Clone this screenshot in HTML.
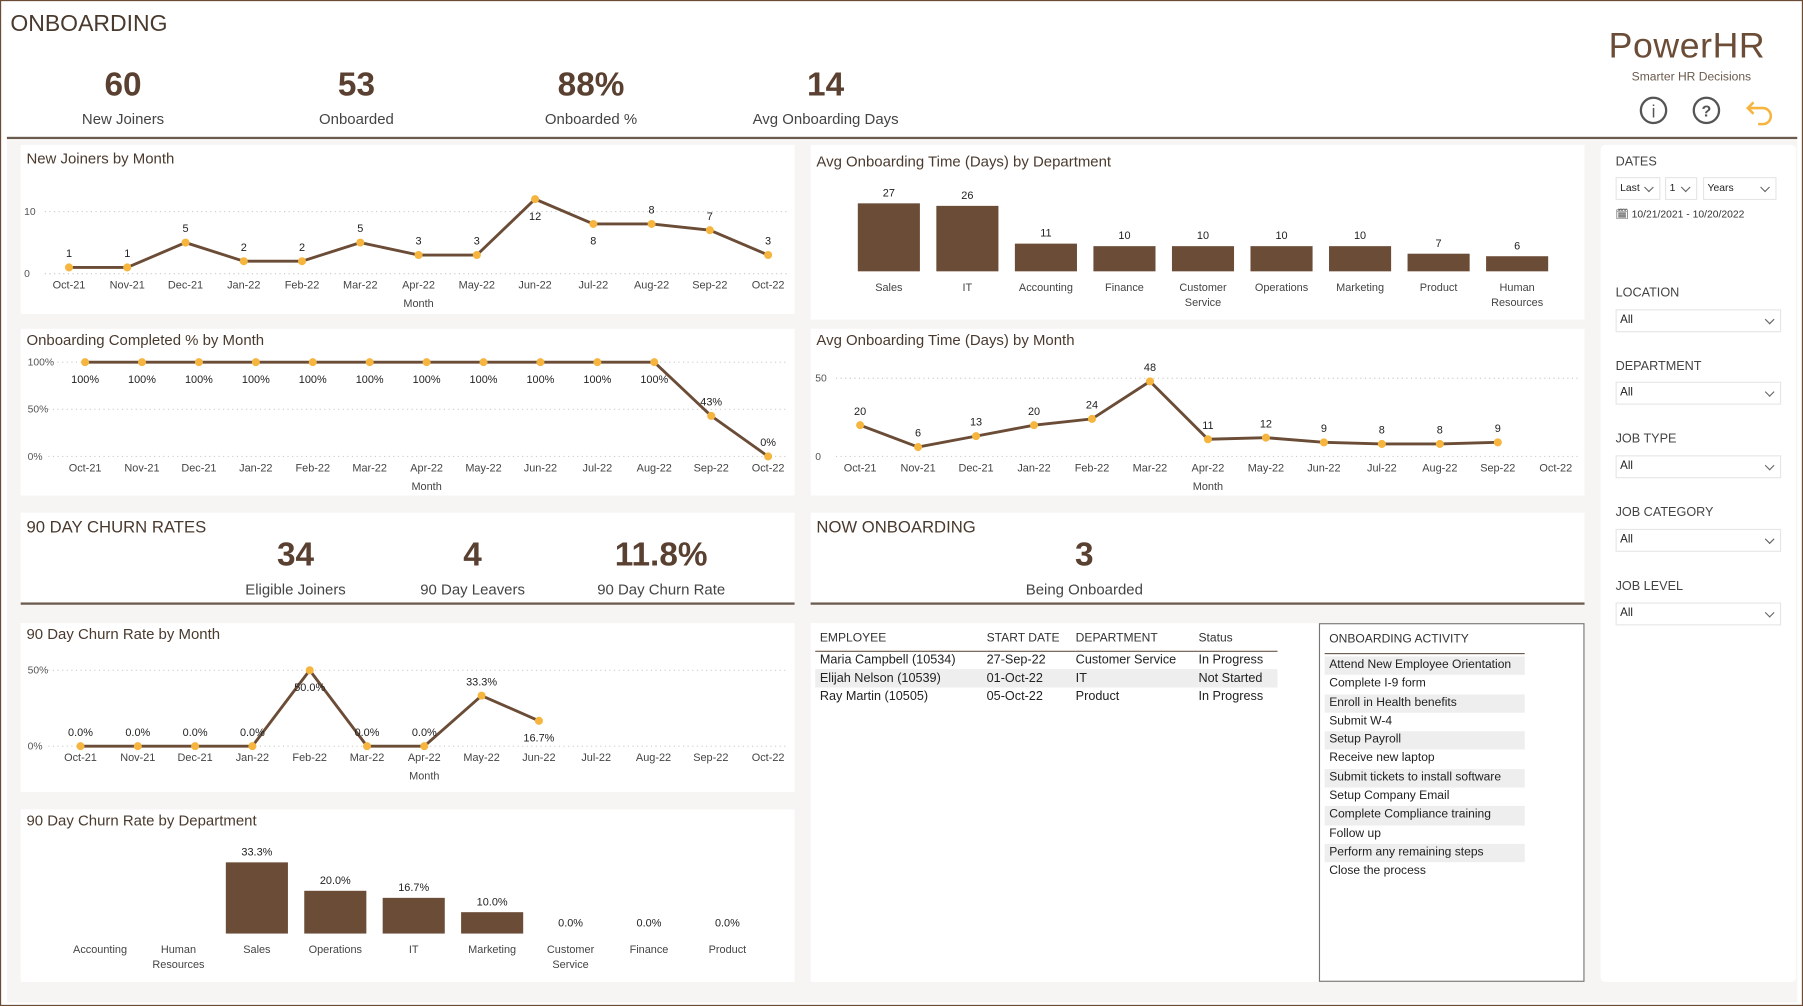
<!DOCTYPE html>
<html><head><meta charset="utf-8">
<style>
*{box-sizing:border-box;margin:0;padding:0}
body{width:1803px;height:1006px;overflow:hidden;background:#fff;font-family:"Liberation Sans",sans-serif}
#root{position:absolute;left:0;top:0;width:1568px;height:875px;transform:scale(1.14987,1.14971);transform-origin:0 0;background:#fff;border:1.5px solid #6b4c36}
.abs{position:absolute}
.bg{position:absolute;left:5px;top:121px;width:1557px;height:750px;background:#f7f5f3}
.panel{position:absolute;background:#fff}
.ptitle{position:absolute;left:5px;top:4px;font-size:13px;color:#4a3a2e}
.kv{position:absolute;text-align:center;color:#5a4030}
.kv b{display:block;font-size:29px;line-height:34px;font-weight:bold;color:#5a4030}
.kv span{display:block;font-size:13px;color:#444;margin-top:5px}
.sl{position:absolute;font-size:11px;color:#444;left:13px}
.dd{position:absolute;left:13px;width:144px;height:20px;border:1px solid #e6e6e6;font-size:10px;color:#222;padding:3px 3px}
.dd::after{content:"";position:absolute;right:6px;top:5px;width:5px;height:5px;border-right:1px solid #666;border-bottom:1px solid #666;transform:rotate(45deg)}
table{border-collapse:collapse;font-size:11px;color:#222}
svg text{font-family:"Liberation Sans",sans-serif}
.act div{height:16.3px;font-size:10.5px;padding:1px 4px;color:#222;width:174px}
</style></head><body>
<div id="root">
<div class="abs" style="left:8px;top:9px;font-size:20px;color:#4a3a2e">ONBOARDING</div>
<div class="kv" style="left:46px;top:56px;width:120px"><b>60</b><span>New Joiners</span></div>
<div class="kv" style="left:249px;top:56px;width:120px"><b>53</b><span>Onboarded</span></div>
<div class="kv" style="left:453px;top:56px;width:120px"><b>88%</b><span>Onboarded %</span></div>
<div class="kv" style="left:637px;top:56px;width:160px"><b>14</b><span>Avg Onboarding Days</span></div>
<div class="abs" style="left:1398px;top:21px;font-size:31px;color:#6b4c36;letter-spacing:0.5px">PowerHR</div>
<div class="abs" style="left:1418px;top:60px;font-size:10.5px;color:#6b5a4e">Smarter HR Decisions</div>
<svg class="abs" style="left:1420px;top:80px" width="130" height="30">
<g><circle cx="17" cy="15" r="11" fill="none" stroke="#555" stroke-width="2"/><text x="17" y="21" font-size="15" text-anchor="middle" fill="#555">i</text></g>
<g><circle cx="63" cy="15" r="11" fill="none" stroke="#555" stroke-width="2"/><text x="63" y="20.5" font-size="14" font-weight="bold" text-anchor="middle" fill="#555">?</text></g>
<path d="M104 8 L99 13 L104 18 M99 13 H112 A7 7 0 0 1 112 27 H108" fill="none" stroke="#f5b53f" stroke-width="2.2"/>
</svg>
<div class="abs" style="left:5px;top:118px;width:1557px;height:2px;background:#6b5a4e"></div>
<div class="bg"></div>

<div class="panel" style="left:17px;top:125px;width:673px;height:147px"><div class="ptitle">New Joiners by Month</div></div>
<div class="panel" style="left:704px;top:125px;width:673px;height:152px"><div class="ptitle" style="top:7px">Avg Onboarding Time (Days) by Department</div></div>
<div class="panel" style="left:17px;top:285px;width:673px;height:145px"><div class="ptitle" style="top:2px">Onboarding Completed % by Month</div></div>
<div class="panel" style="left:704px;top:285px;width:673px;height:145px"><div class="ptitle" style="top:2px">Avg Onboarding Time (Days) by Month</div></div>

<div class="panel" style="left:17px;top:445px;width:673px;height:80px;border-bottom:2px solid #6b5a4e">
<div class="ptitle" style="top:5px;font-size:14.5px">90 DAY CHURN RATES</div>
<div class="kv" style="left:179px;top:20px;width:120px"><b>34</b><span>Eligible Joiners</span></div>
<div class="kv" style="left:333px;top:20px;width:120px"><b>4</b><span>90 Day Leavers</span></div>
<div class="kv" style="left:487px;top:20px;width:140px"><b>11.8%</b><span>90 Day Churn Rate</span></div>
</div>
<div class="panel" style="left:704px;top:445px;width:673px;height:80px;border-bottom:2px solid #6b5a4e">
<div class="ptitle" style="top:5px;font-size:14.5px">NOW ONBOARDING</div>
<div class="kv" style="left:168px;top:20px;width:140px"><b>3</b><span>Being Onboarded</span></div>
</div>
<div class="panel" style="left:17px;top:541px;width:673px;height:147px"><div class="ptitle" style="top:2px">90 Day Churn Rate by Month</div></div>
<div class="panel" style="left:17px;top:703px;width:673px;height:150px"><div class="ptitle" style="top:2px">90 Day Churn Rate by Department</div></div>

<div class="panel" style="left:704px;top:541px;width:673px;height:312px">
<table style="position:absolute;left:4px;top:3px;width:402px">
<tr style="height:21px;border-bottom:1px solid #6b5a4e;font-size:10.5px;color:#333"><td style="padding-left:4px">EMPLOYEE</td><td>START DATE</td><td>DEPARTMENT</td><td>Status</td></tr>
<tr style="height:16px"><td style="padding-left:4px">Maria Campbell (10534)</td><td>27-Sep-22</td><td>Customer Service</td><td>In Progress</td></tr>
<tr style="height:16px;background:#eee"><td style="padding-left:4px">Elijah Nelson (10539)</td><td>01-Oct-22</td><td>IT</td><td>Not Started</td></tr>
<tr style="height:16px"><td style="padding-left:4px">Ray Martin (10505)</td><td>05-Oct-22</td><td>Product</td><td>In Progress</td></tr>
</table>
<div class="act" style="position:absolute;left:442px;top:0;width:231px;height:312px;border:1px solid #777;padding:4px 4px">
<div style="background:#fff;border-bottom:1px solid #6b5a4e;height:22px;color:#333;margin-bottom:2px;padding-top:3px">ONBOARDING ACTIVITY</div>
<div style="background:#eee">Attend New Employee Orientation</div><div style="background:#fff">Complete I-9 form</div><div style="background:#eee">Enroll in Health benefits</div><div style="background:#fff">Submit W-4</div><div style="background:#eee">Setup Payroll</div><div style="background:#fff">Receive new laptop</div><div style="background:#eee">Submit tickets to install software</div><div style="background:#fff">Setup Company Email</div><div style="background:#eee">Complete Compliance training</div><div style="background:#fff">Follow up</div><div style="background:#eee">Perform any remaining steps</div><div style="background:#fff">Close the process</div>
</div>
</div>

<div class="panel" style="left:1391px;top:125px;width:170px;height:728px;border-radius:4px">
<div class="sl" style="top:9px">DATES</div>
<div class="dd" style="top:28px;width:39px;font-size:9px">Last</div>
<div class="dd" style="top:28px;left:56px;width:28px;font-size:9px">1</div>
<div class="dd" style="top:28px;left:89px;width:64px;font-size:9px">Years</div>
<div class="sl" style="top:55px;font-size:9px;color:#333">🗓 10/21/2021 - 10/20/2022</div>
<div class="sl" style="top:123px">LOCATION</div><div class="dd" style="top:143px">All</div>
<div class="sl" style="top:187px">DEPARTMENT</div><div class="dd" style="top:206px">All</div>
<div class="sl" style="top:250px">JOB TYPE</div><div class="dd" style="top:270px">All</div>
<div class="sl" style="top:314px">JOB CATEGORY</div><div class="dd" style="top:334px">All</div>
<div class="sl" style="top:378px">JOB LEVEL</div><div class="dd" style="top:398px">All</div>
</div>

<svg id="charts" class="abs" style="left:0;top:0" width="1568" height="875"></svg>
</div>
<script>
const months=["Oct-21","Nov-21","Dec-21","Jan-22","Feb-22","Mar-22","Apr-22","May-22","Jun-22","Jul-22","Aug-22","Sep-22","Oct-22"];
const newJoiners=[1,1,5,2,2,5,3,3,12,8,8,7,3];
const completedPct=[100,100,100,100,100,100,100,100,100,100,100,43,0];
const avgDaysMonth=[20,6,13,20,24,48,11,12,9,8,8,9];
const churnMonth=[0,0,0,0,50,0,0,33.3,16.7];
const depts=["Sales","IT","Accounting","Finance","Customer\nService","Operations","Marketing","Product","Human\nResources"];
const deptDays=[27,26,11,10,10,10,10,7,6];
const churnDepts=["Accounting","Human\nResources","Sales","Operations","IT","Marketing","Customer\nService","Finance","Product"];
const churnDeptVals=[null,null,33.3,20,16.7,10,0,0,0];
const joinerTicks=[0,10];
const pctTicks=[0,50,100];
const dayTicks=[0,50];
const churnTicks=[0,50];

const S=document.getElementById('charts');const NS="http://www.w3.org/2000/svg";
function mk(t,a,txt,name){const e=document.createElementNS(NS,t);for(const k in a)e.setAttribute(k,a[k]);if(txt!==undefined){e.textContent=txt;}


S.appendChild(e);return e;}
function multi(x,y,s,size,fill,name){s.split("\n").forEach((l,i)=>mk('text',{x:x,y:y+i*13,'font-size':size,'text-anchor':'middle',fill:fill},l,name));}

function lineChart(o){
 const xs=i=>o.x0+i*(o.x1-o.x0)/(months.length-1);
 const ys=v=>o.y0-(v-o.vmin)/(o.vmax-o.vmin)*(o.y0-o.y1);
 o.ticks.forEach(t=>{mk('line',{x1:o.gx,x2:o.gx2,y1:ys(t),y2:ys(t),stroke:'#ccc','stroke-dasharray':'1,3'},undefined,'gridline');
  mk('text',{x:o.gx-18,y:ys(t)+3,'font-size':9,fill:'#555'},o.tf(t),'y-tick-label');});
 months.forEach((m,i)=>mk('text',{x:xs(i),y:o.y0+13,'font-size':9.5,'text-anchor':'middle',fill:'#444'},m,'x-tick-label'));
 mk('text',{x:(o.x0+o.x1)/2,y:o.y0+29,'font-size':9.5,'text-anchor':'middle',fill:'#444'},'Month','x-axis-title');
 const pts=o.vals.map((v,i)=>xs(i)+','+ys(v)).join(' ');
 mk('polyline',{points:pts,fill:'none',stroke:'#6b4c36','stroke-width':2.5},undefined,o.name+'-line');
 o.vals.forEach((v,i)=>{mk('circle',{cx:xs(i),cy:ys(v),r:3.5,fill:'#f5b53f'},undefined,o.name+'-point');
  const below=o.below&&o.below(i,v);
  mk('text',{x:xs(i),y:below?ys(v)+18:ys(v)-9,'font-size':9.5,'text-anchor':'middle',fill:'#222'},o.lf(v),o.name+'-label');});
}
lineChart({name:'new-joiners',vals:newJoiners,x0:59,x1:667,y0:237,y1:183,vmin:0,vmax:10,ticks:joinerTicks,gx:38,gx2:685,tf:t=>t,lf:v=>v,below:(i,v)=>i==8||i==9});
lineChart({name:'completed',vals:completedPct,x0:73,x1:667,y0:396,y1:314,vmin:0,vmax:100,ticks:pctTicks,gx:41,gx2:685,tf:t=>t+'%',lf:v=>v+'%',below:(i,v)=>v==100});
lineChart({name:'avg-days-month',vals:avgDaysMonth,x0:747,x1:1352,y0:396,y1:328,vmin:0,vmax:50,ticks:dayTicks,gx:726,gx2:1372,tf:t=>t,lf:v=>v});
lineChart({name:'churn-month',vals:churnMonth,x0:69,x1:667,y0:648,y1:582,vmin:0,vmax:50,ticks:churnTicks,gx:41,gx2:685,tf:t=>t+'%',lf:v=>v.toFixed(1)+'%',below:(i,v)=>v==50||i==8});

function barChart(o){
 const xs=i=>o.x0+i*o.step;
 o.cats.forEach((c,i)=>{const v=o.vals[i];const x=xs(i);
  if(v!==null&&v!==undefined){const h=v*o.k;
   mk('rect',{x:x-o.w/2,y:o.base-h,width:o.w,height:h,fill:'#6b4c36'},undefined,o.name+'-bar');
   mk('text',{x:x,y:o.base-h-6,'font-size':9.5,'text-anchor':'middle',fill:'#222'},o.lf(v),o.name+'-value');}
  multi(x,o.base+17,c,9.5,'#444',o.name+'-category');});
}
barChart({name:'dept-days',cats:depts,vals:deptDays,x0:772,step:68.3,w:54,base:235,k:2.19,lf:v=>v});
barChart({name:'churn-dept',cats:churnDepts,vals:churnDeptVals,x0:86,step:68.2,w:54,base:811,k:1.86,lf:v=>v.toFixed(1)+'%'});
</script>
</body></html>
